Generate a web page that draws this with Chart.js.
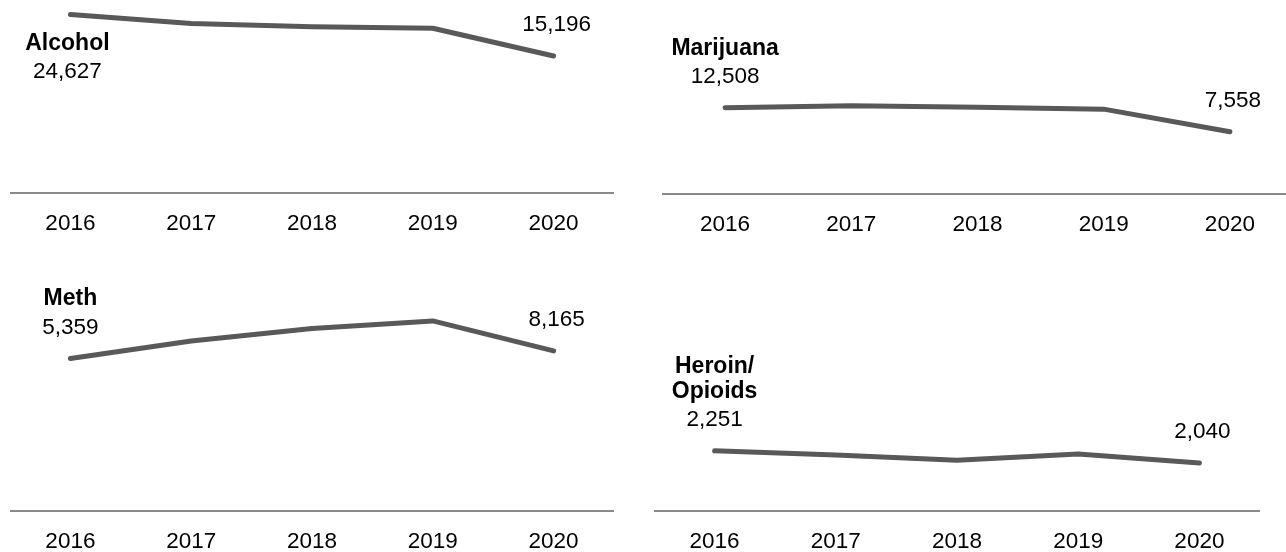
<!DOCTYPE html>
<html>
<head>
<meta charset="utf-8">
<script src="https://cdn.jsdelivr.net/npm/chart.js@4.4.1/dist/chart.umd.min.js"></script>
<style>
  html, body { margin: 0; padding: 0; background: #fff; overflow: hidden; }
  body { width: 1286px; height: 552px; position: relative; }
  canvas { position: absolute; }
</style>
</head>
<body>
<canvas id="alcohol" width="604" height="255" style="left:10px;top:0px"></canvas>
<canvas id="marijuana" width="631" height="256" style="left:662px;top:0px"></canvas>
<canvas id="meth" width="604" height="297" style="left:10px;top:276px"></canvas>
<canvas id="heroin" width="606" height="297" style="left:654px;top:276px"></canvas>
<script>
// years shown on every small chart
const years = ['2016', '2017', '2018', '2019', '2020'];

// values per substance (ends are labelled, middle ones)
const alcohol = [24627, 22600, 21850, 21500, 15196];
const marijuana = [12508, 12920, 12650, 12240, 7558];
const meth = [5359, 11800, 16300, 19100, 8165];
const heroin = [2251, 2180, 2090, 2195, 2040];

const FONT = 'Liberation Sans, Arial, sans-serif';
const LINE_COLOR = '#595959';

// labels: name + first value at the start, last value at the end
const endLabels = {
  id: 'endLabels',
  afterDatasetsDraw(chart, args, opts) {
    const ctx = chart.ctx;
    const meta = chart.getDatasetMeta(0);
    const data = chart.data.datasets[0].data;
    const first = meta.data[0];
    const last = meta.data[meta.data.length - 1];
    const fmt = v => v.toLocaleString('en-US');
    ctx.save();
    ctx.fillStyle = '#000';
    ctx.textAlign = 'center';
    ctx.textBaseline = 'middle';

    // start label
    const name = opts.name;
    if (opts.below) {
      let y = first.y + 29.5;
      ctx.font = 'bold 23px ' + FONT;
      name.forEach(line => { ctx.fillText(line, first.x - 3, y); y += 25; });
      ctx.font = '22.5px ' + FONT;
      ctx.fillText(fmt(data[0]), first.x - 3, first.y + 57.5);
    } else {
      const vy = first.y - 31;
      ctx.font = '22.5px ' + FONT;
      ctx.fillText(fmt(data[0]), first.x, vy);
      ctx.font = 'bold 23px ' + FONT;
      let y = vy - 28.5;
      for (let i = name.length - 1; i >= 0; i--) {
        ctx.fillText(name[i], first.x, y);
        y -= 25;
      }
    }

    // end label
    ctx.font = '22.5px ' + FONT;
    ctx.fillText(fmt(data[data.length - 1]), last.x + 3, last.y - 31);
    ctx.restore();
  }
};

function makePanel(id, values, name, yMin, yMax, below) {
  const ctx = document.getElementById(id).getContext('2d');
  return new Chart(ctx, {
    type: 'line',
    data: {
      labels: years,
      datasets: [{
        data: values,
        borderColor: LINE_COLOR,
        borderWidth: 5,
        borderCapStyle: 'round',
        borderJoinStyle: 'round',
        pointRadius: 0,
        tension: 0,
        fill: false,
        clip: false
      }]
    },
    options: {
      responsive: false,
      animation: false,
      layout: { padding: 0 },
      plugins: {
        legend: { display: false },
        tooltip: { enabled: false },
        endLabels: { name, below }
      },
      scales: {
        x: {
          offset: true,
          grid: { display: false, drawTicks: false },
          border: { display: true, color: '#898989', width: 2 },
          ticks: { color: '#000', padding: 17.5, font: { family: FONT, size: 22.5 } }
        },
        y: { display: false, min: yMin, max: yMax }
      }
    },
    plugins: [endLabels]
  });
}

makePanel('alcohol', alcohol, ['Alcohol'], -15937, 27922, true);
makePanel('marijuana', marijuana, ['Marijuana'], -5293, 34785, false);
makePanel('meth', meth, ['Meth'], -50253, 35497, false);
makePanel('heroin', heroin, ['Heroin/', 'Opioids'], 1217, 5253, false);
</script>
</body>
</html>
